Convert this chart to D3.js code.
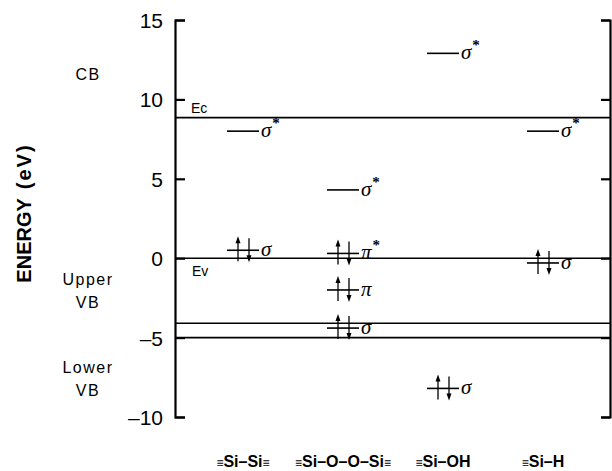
<!DOCTYPE html>
<html>
<head>
	<style>
	body {
		margin: 0;
		background: #fff;
	}
	text {
		font-family: "Liberation Sans", Arial, sans-serif;
		fill: #000;
	}
	.sym {
		font-family: "Liberation Serif", "Times New Roman", serif;
		font-style: italic;
	}
	</style>
</head>
<body>
	<script src="https://d3js.org/d3.v7.min.js"></script>
	<script>
	var width = 612, height = 471;

	// chart data
	var categories = ["Si–Si", "Si–O–O–Si", "Si–OH", "Si–H"];
	var catTrailing = [true, true, false, false];
	var yTicks = [15, 10, 5, 0, -5, -10];
	var bandLines = [8.85, 0, -4.1, -5];

	var levelCat = [0, 0, 1, 1, 1, 1, 2, 2, 3, 3];
	var levelEnergy = [8.0, 0.5, 4.3, 0.3, -2.0, -4.4, 12.9, -8.2, 8.0, -0.3];
	var levelSymbol = ["σ", "σ", "σ", "π", "π", "σ", "σ", "σ", "σ", "σ"];
	var levelStar = [true, false, true, true, false, false, true, false, true, false];
	var levelFilled = [false, true, false, true, true, true, false, true, false, true];

	var regionLabels = [["CB"], ["Upper", "VB"], ["Lower", "VB"]];
	var regionEnergy = [11.6, -1.85, -7.4];

	var left = 175, right = 610;

	var svg = d3.select("body").append("svg")
		.attr("width", width)
		.attr("height", height);

	var y = d3.scaleLinear()
		.domain([-10, 15])
		.range([417, 20]);

	var x = d3.scalePoint()
		.domain(categories)
		.range([193, 593])
		.padding(0.5);

	// axes, ticks point inward
	var yAxisL = d3.axisLeft(y).tickValues(yTicks).tickSize(-10).tickPadding(12)
		.tickFormat(function(d){ return d < 0 ? "–" + Math.abs(d) : d; });
	var yAxisR = d3.axisRight(y).tickValues(yTicks).tickSize(-9).tickFormat("");

	var gl = svg.append("g").attr("transform", "translate(" + left + ",0)").call(yAxisL);
	var gr = svg.append("g").attr("transform", "translate(" + right + ",0)").call(yAxisR);
	[gl, gr].forEach(function(g){
		g.select(".domain").attr("stroke-width", 2.2).attr("stroke", "#000");
		g.selectAll(".tick line").attr("stroke-width", 2.2).attr("stroke", "#000");
	});
	gl.selectAll(".tick text")
		.style("font-family", "Liberation Sans, Arial, sans-serif")
		.style("font-size", "21px")
		.attr("dy", "0.36em");

	// band edge lines
	svg.selectAll("line.band")
		.data(bandLines)
		.enter().append("line")
		.attr("class", "band")
		.attr("x1", left).attr("x2", right)
		.attr("y1", function(d){ return y(d); })
		.attr("y2", function(d){ return y(d); })
		.attr("stroke", "#000")
		.attr("stroke-width", 1.6);

	svg.append("text").attr("x", 191).attr("y", y(8.85) - 5)
		.style("font-size", "14px").text("Ec");
	svg.append("text").attr("x", 192).attr("y", y(0) + 18)
		.style("font-size", "14px").text("Ev");

	// region labels
	regionLabels.forEach(function(lines, i){
		var t = svg.append("text")
			.attr("x", 88)
			.attr("y", y(regionEnergy[i]))
			.attr("text-anchor", "middle")
			.style("font-size", "16px")
			.style("letter-spacing", "1.5px");
		lines.forEach(function(s, j){
			t.append("tspan").attr("x", 88).attr("dy", j === 0 ? (lines.length > 1 ? "-0.15em" : "0.35em") : "1.4em").text(s);
		});
	});

	// y title
	var yt = svg.append("text")
		.attr("transform", "translate(31,213) rotate(-90)")
		.attr("text-anchor", "middle")
		.style("font-size", "20px")
		.style("font-weight", "bold");
	yt.append("tspan").text("ENERGY");
	yt.append("tspan").attr("dx", 9).style("letter-spacing", "2px").text("(eV)");

	// category labels
	categories.forEach(function(c, i){
		var t = svg.append("text")
			.attr("x", x(c))
			.attr("y", 467)
			.attr("text-anchor", "middle")
			.style("font-size", "16px")
			.style("font-weight", "bold");
		t.append("tspan").style("font-size", "12px").style("font-weight", "normal").text("≡");
		t.append("tspan").text(c);
		if (catTrailing[i]) t.append("tspan").style("font-size", "12px").style("font-weight", "normal").text("≡");
	});

	// molecular levels
	var levels = levelEnergy.map(function(e, i){
		return { cx: x(categories[levelCat[i]]), y: y(e), sym: levelSymbol[i], star: levelStar[i], filled: levelFilled[i] };
	});

	var lg = svg.selectAll("g.level")
		.data(levels)
		.enter().append("g")
		.attr("class", "level");

	lg.append("line")
		.attr("x1", function(d){ return d.cx - 16; })
		.attr("x2", function(d){ return d.cx + 16; })
		.attr("y1", function(d){ return d.y; })
		.attr("y2", function(d){ return d.y; })
		.attr("stroke", "#000")
		.attr("stroke-width", 1.6);

	var sym = lg.append("text")
		.attr("class", "sym")
		.attr("x", function(d){ return d.cx + 18; })
		.attr("y", function(d){ return d.y + 6; })
		.style("font-size", "21px")
		.text(function(d){ return d.sym; });
	sym.filter(function(d){ return d.star; })
		.append("tspan")
		.attr("dx", 1).attr("dy", -9)
		.style("font-style", "normal")
		.style("font-weight", "bold")
		.style("font-size", "15px")
		.text("*");

	var occ = lg.filter(function(d){ return d.filled; });
	// up arrow
	occ.append("line")
		.attr("x1", function(d){ return d.cx - 5; })
		.attr("x2", function(d){ return d.cx - 5; })
		.attr("y1", function(d){ return d.y + 11; })
		.attr("y2", function(d){ return d.y - 8; })
		.attr("stroke", "#000").attr("stroke-width", 1.3);
	occ.append("path")
		.attr("d", function(d){ var a = d.cx - 5, b = d.y - 14; return "M" + a + "," + b + "L" + (a - 2.5) + "," + (b + 7) + "L" + (a + 2.5) + "," + (b + 7) + "Z"; })
		.attr("fill", "#000");
	// down arrow
	occ.append("line")
		.attr("x1", function(d){ return d.cx + 6; })
		.attr("x2", function(d){ return d.cx + 6; })
		.attr("y1", function(d){ return d.y - 12; })
		.attr("y2", function(d){ return d.y + 6; })
		.attr("stroke", "#000").attr("stroke-width", 1.3);
	occ.append("path")
		.attr("d", function(d){ var a = d.cx + 6, b = d.y + 12; return "M" + a + "," + b + "L" + (a - 2.5) + "," + (b - 7) + "L" + (a + 2.5) + "," + (b - 7) + "Z"; })
		.attr("fill", "#000");
	</script>
</body>
</html>
